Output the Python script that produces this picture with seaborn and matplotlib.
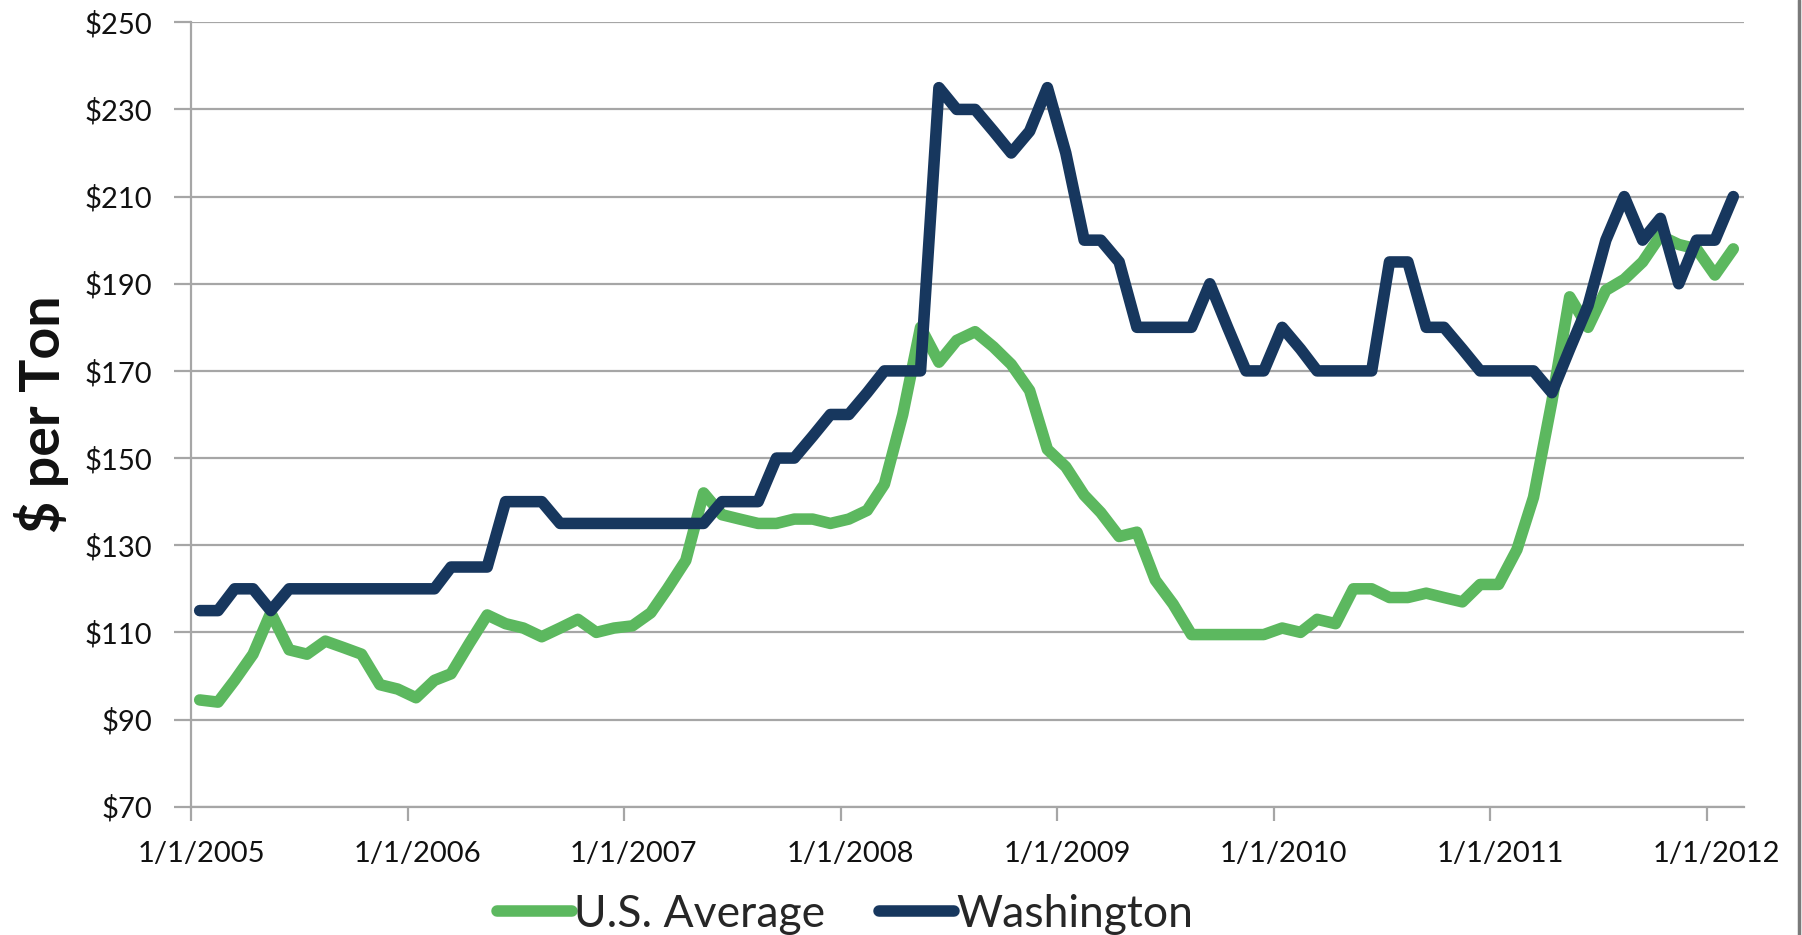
import numpy as np
import pandas as pd
import matplotlib
matplotlib.use("Agg")
import matplotlib.pyplot as plt
import matplotlib.transforms as mtransforms
from matplotlib.lines import Line2D
import seaborn as sns

# Monthly observations, stamped mid-month (Jan 2005 - Feb 2012)
months = pd.date_range("2005-01-01", "2012-02-01", freq="MS") + pd.Timedelta(days=14)

us_average = [
    94.5, 94, 99, 105, 114.5, 106, 105, 108, 106.5, 105, 98, 97,          # 2005
    95, 99, 100.5, 107.5, 114, 112, 111, 109, 111, 113, 110, 111,         # 2006
    111.5, 114.5, 120, 126.5, 142, 137, 136, 135, 135, 136, 136, 135,     # 2007
    136, 138, 144, 160, 180, 172, 177, 179, 175.5, 171.5, 165.5, 152,     # 2008
    148, 141.5, 137.5, 132, 133, 122, 116.5, 109.5, 109.5, 109.5, 109.5, 109.5,  # 2009
    111, 110, 113, 112, 120, 120, 118, 118, 119, 118, 117, 121,           # 2010
    121, 129, 141, 163, 187, 180, 188.5, 191, 195, 201, 199, 198,         # 2011
    192, 198,                                                             # 2012
]

washington = [
    115, 115, 120, 120, 115, 120, 120, 120, 120, 120, 120, 120,           # 2005
    120, 120, 125, 125, 125, 140, 140, 140, 135, 135, 135, 135,           # 2006
    135, 135, 135, 135, 135, 140, 140, 140, 150, 150, 155, 160,           # 2007
    160, 165, 170, 170, 170, 235, 230, 230, 225, 220, 225, 235,           # 2008
    220, 200, 200, 195, 180, 180, 180, 180, 190, 180, 170, 170,           # 2009
    180, 175, 170, 170, 170, 170, 195, 195, 180, 180, 175, 170,           # 2010
    170, 170, 170, 165, 175, 185, 200, 210, 200, 205, 190, 200,           # 2011
    200, 210,                                                             # 2012
]

series_names = ["U.S. Average", "Washington"]
series_colors = ["#5cb85f", "#17375e"]
y_ticks = [70, 90, 110, 130, 150, 170, 190, 210, 230, 250]
tick_years = [2005, 2006, 2007, 2008, 2009, 2010, 2011, 2012]

sns.set_theme(style="white")
plt.rcParams["font.family"] = ["Lato", "DejaVu Sans"]

grid_color = "#a6a6a6"
text_color = "#111111"

fig = plt.figure(figsize=(18.02, 9.35), dpi=100)
ax = fig.add_axes([0.1062, 0.1372, 0.8616, 0.8390])

df = pd.DataFrame({
    "date": np.tile(months.values, 2),
    "price": us_average + washington,
    "series": np.repeat(series_names, len(months)),
})

sns.lineplot(
    data=df, x="date", y="price", hue="series",
    hue_order=series_names,
    palette=dict(zip(series_names, series_colors)),
    linewidth=8.3, ax=ax, legend=False,
)
for line in ax.get_lines():
    line.set_solid_joinstyle("round")
    line.set_solid_capstyle("round")

# y axis: dollar gridlines
ax.set_ylim(70, 250)
ax.set_yticks(y_ticks)
ax.set_yticklabels([f"\\${v}" for v in y_ticks])
ax.yaxis.grid(True, color=grid_color, linewidth=1.6)
ax.xaxis.grid(False)
ax.set_axisbelow(True)

# x axis: yearly date ticks
start = pd.Timestamp("2005-01-01")
ax.set_xlim(start, start + pd.Timedelta(days=2619))
ax.set_xticks([pd.Timestamp(f"{y}-01-01") for y in tick_years])
ax.set_xticklabels([f"1/1/{y}" for y in tick_years])

for side in ["top", "right"]:
    ax.spines[side].set_visible(False)
for side in ["left", "bottom"]:
    ax.spines[side].set_color(grid_color)
    ax.spines[side].set_linewidth(1.6)

ax.tick_params(axis="y", which="major", left=True, length=12, width=1.6,
               color=grid_color, pad=16, labelsize=21, labelcolor=text_color)
ax.tick_params(axis="x", which="major", bottom=True, length=10, width=1.6,
               color=grid_color, pad=15, labelsize=21, labelcolor=text_color)

# date labels sit slightly right of their tick marks
shift = mtransforms.ScaledTranslation(7 / 72, 0, fig.dpi_scale_trans)
for lbl in ax.get_xticklabels():
    lbl.set_transform(lbl.get_transform() + shift)

ax.set_xlabel("")
ax.set_ylabel("\\$ per Ton", fontsize=40, fontweight="bold", color=text_color)
ax.yaxis.set_label_coords(-0.079, 0.5)

handles = [Line2D([0], [0], color=c, lw=8.3, solid_capstyle="round") for c in series_colors]
fig.legend(handles, series_names, loc="center", bbox_to_anchor=(0.469, 0.022),
           ncol=2, frameon=False, fontsize=32, handlelength=1.7,
           handletextpad=0.05, columnspacing=1.2)

# chart border on the right edge
fig.add_artist(Line2D([0.9985, 0.9985], [0, 1], transform=fig.transFigure,
                      color="#7a7a7a", linewidth=2.5))

fig.savefig("out.png", dpi=100)
